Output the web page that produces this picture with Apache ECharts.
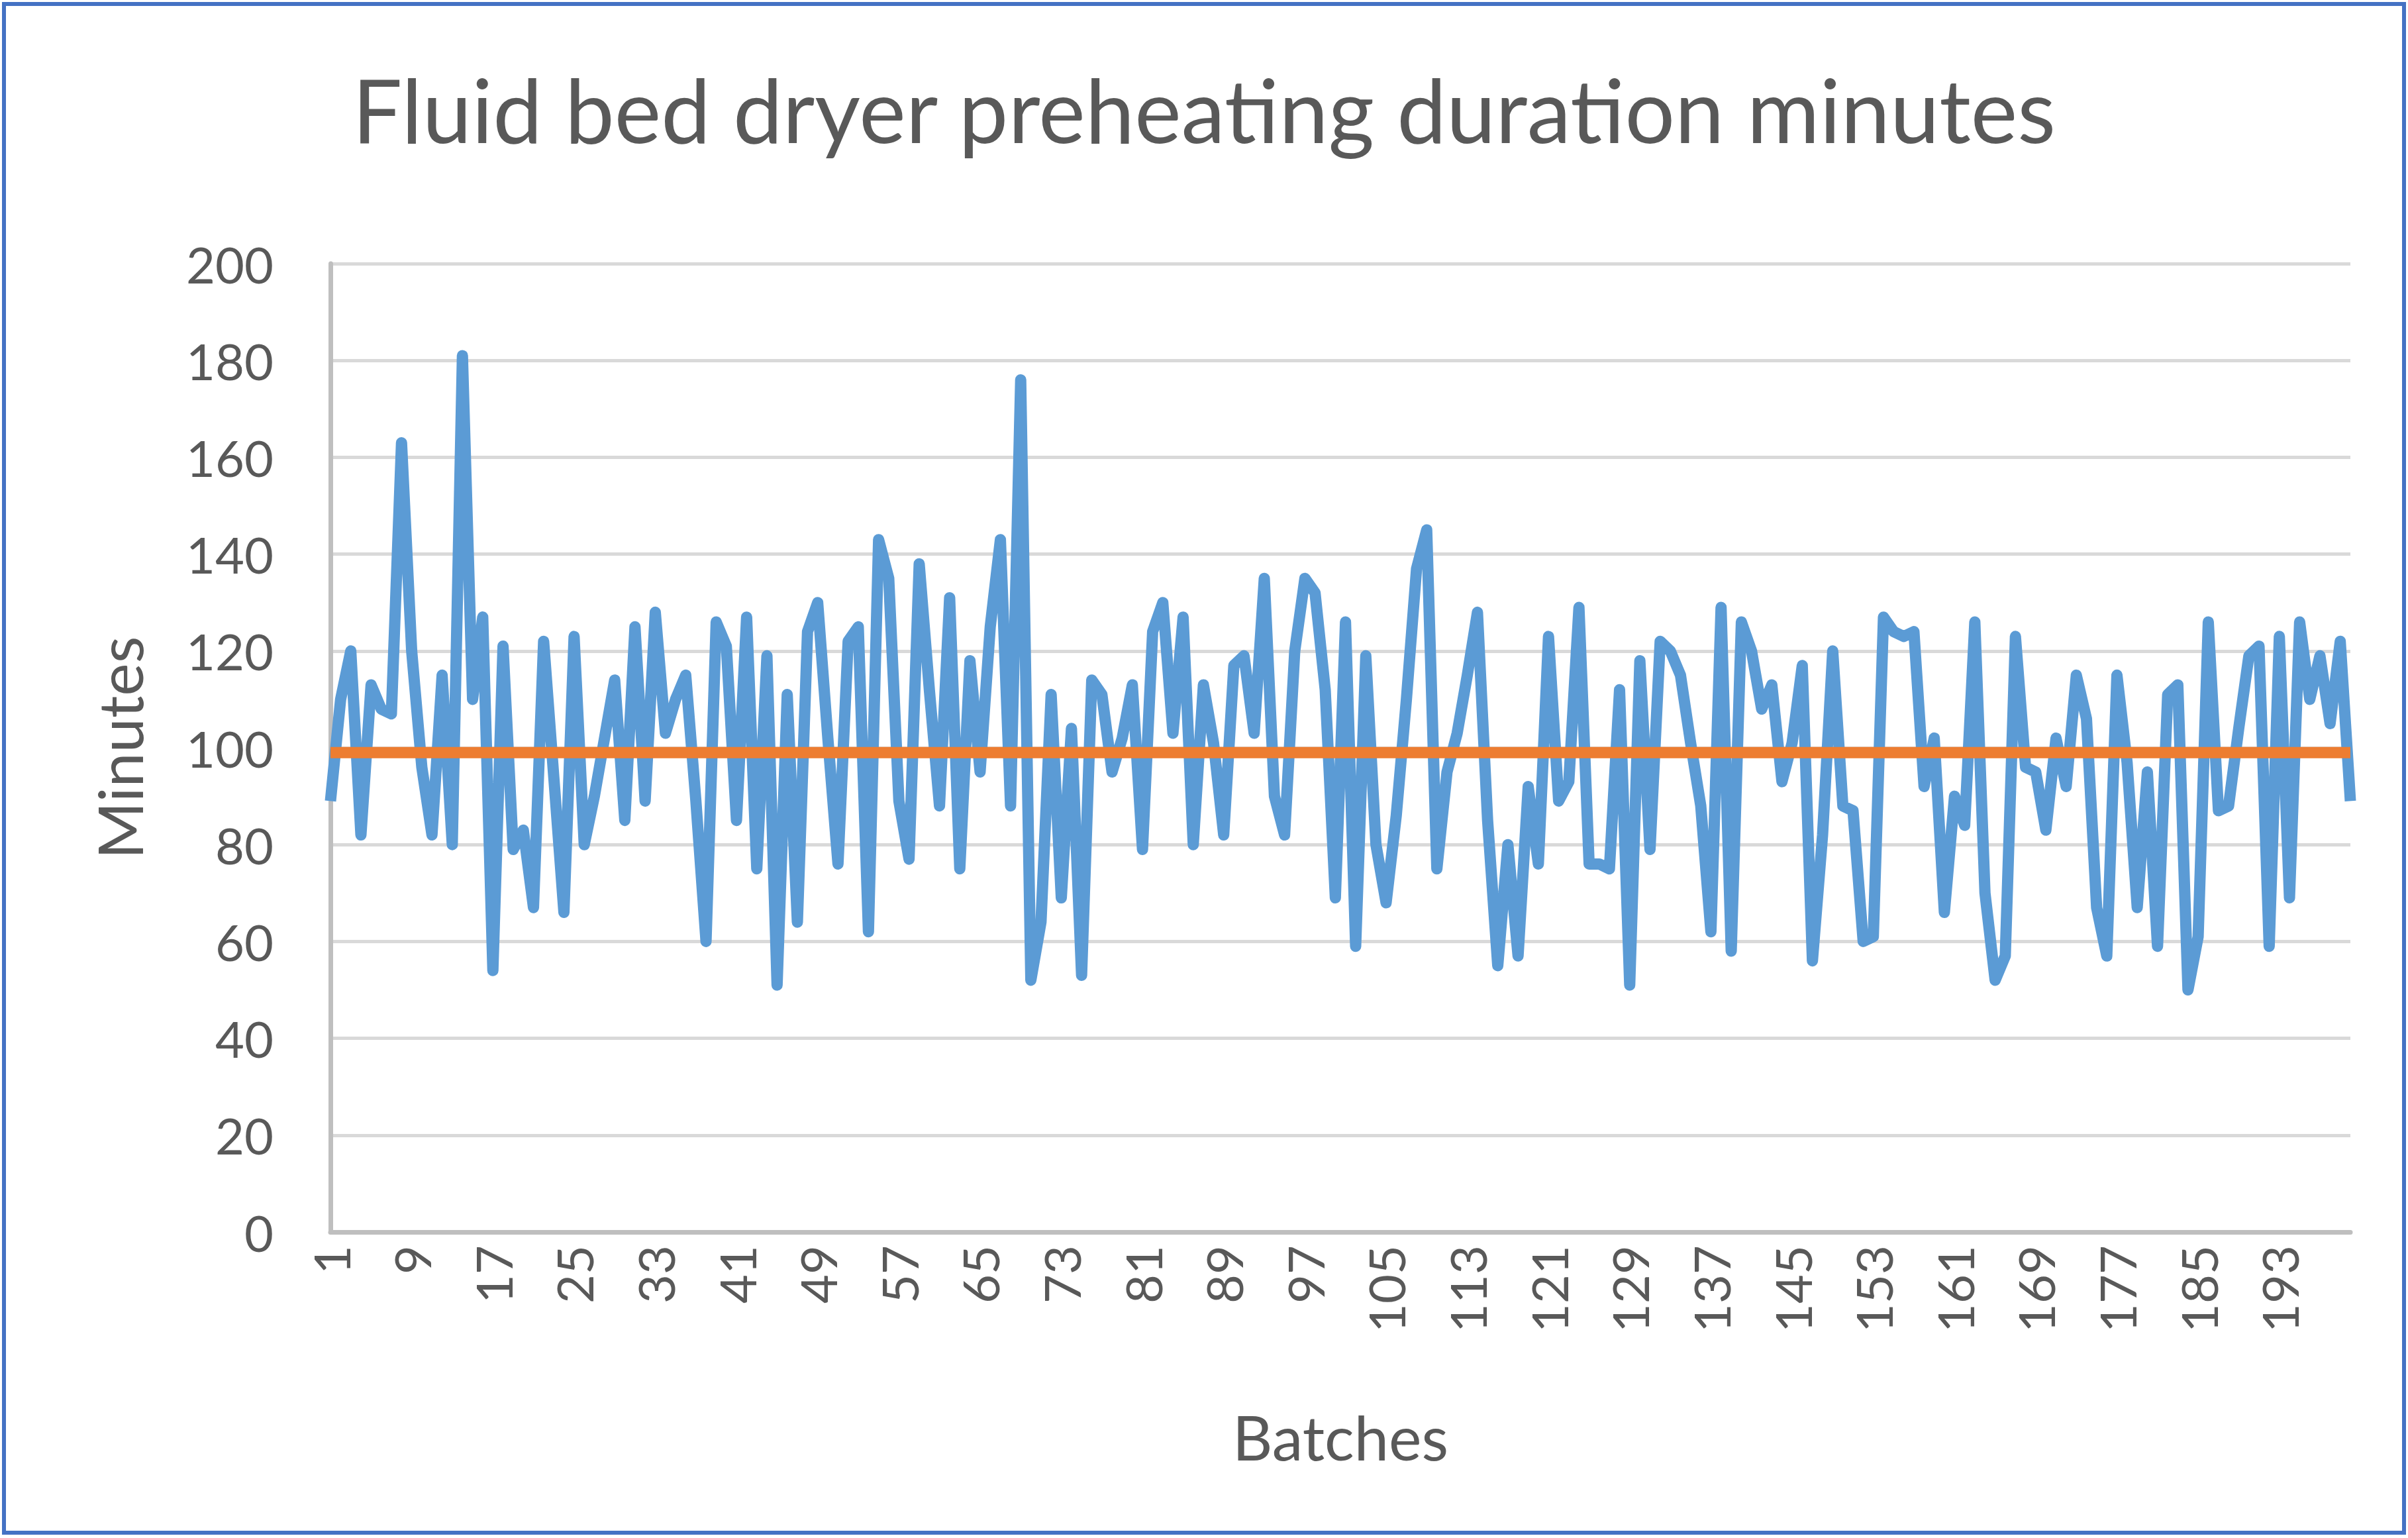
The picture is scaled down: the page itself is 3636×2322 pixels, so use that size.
<!DOCTYPE html>
<html>
<head>
<meta charset="utf-8">
<script src="https://cdn.jsdelivr.net/npm/echarts@6/dist/echarts.min.js"></script>
<style>
html,body{margin:0;padding:0;background:#ffffff;}
#chart{width:3636px;height:2322px;}
</style>
</head>
<body>
<div id="chart"></div>
<script>
// ---------- data ----------
const chartTitle = 'Fluid bed dryer preheating duration minutes';
const xAxisTitle = 'Batches';
const yAxisTitle = 'Minutes';

const batchCount = 200;
const batches = Array.from({length: batchCount}, (_, i) => String(i + 1));

const minutes = [
  89,110,120,82,113,108,107,163,120,96,
  82,115,80,181,110,127,54,121,79,83,
  67,122,94,66,123,80,90,102,114,85,
  125,89,128,103,110,115,89,60,126,121,
  85,127,75,119,51,111,64,124,130,102,
  76,122,125,62,143,135,89,77,138,112,
  88,131,75,118,95,125,143,88,176,52,
  64,111,69,104,53,114,111,95,102,113,
  79,124,130,103,127,80,113,101,82,117,
  119,103,135,90,82,120,135,132,112,69,
  126,59,119,80,68,86,110,137,145,75,
  95,103,115,128,85,55,80,57,92,76,
  123,89,93,129,76,76,75,112,51,118,
  79,122,120,115,101,88,62,129,58,126,
  120,108,113,93,101,117,56,82,120,88,
  87,60,61,127,124,123,124,92,102,66,
  90,84,126,70,52,57,123,96,95,83,
  102,92,115,106,67,57,115,97,67,95,
  59,111,113,50,61,126,87,88,104,119,
  121,59,123,69,126,110,119,105,122,89
];

const averageMinutes = 99;
const averageLine = batches.map(() => averageMinutes);

const yMin = 0, yMax = 200, yStep = 20;

// ---------- styling helpers ----------
const FONT = 'Lato';
const TEXT_COLOR = '#595959';
function fitSize(text, target) {
  const ctx = document.createElement('canvas').getContext('2d');
  ctx.font = 'normal 100px ' + FONT;
  return 100 * target / ctx.measureText(text).width;
}
const titleSize = fitSize(chartTitle, 2575);
const axisTitleSize = fitSize(xAxisTitle, 326);
const tickSize = fitSize('200', 132);

const chart = echarts.init(document.getElementById('chart'), null, {renderer: 'svg', width: 3636, height: 2322});

chart.setOption({
  animation: false,
  backgroundColor: '#ffffff',
  title: {
    text: chartTitle,
    left: 'center',
    top: 92,
    textStyle: {fontFamily: FONT, fontSize: titleSize, fontWeight: 'normal', color: TEXT_COLOR}
  },
  graphic: [{
    type: 'rect',
    shape: {x: 6, y: 6, width: 3624, height: 2308},
    style: {fill: 'none', stroke: '#4472C4', lineWidth: 6},
    silent: true
  }],
  grid: {left: 499, right: 87, top: 398, bottom: 462, containLabel: false},
  xAxis: {
    type: 'category',
    data: batches,
    boundaryGap: false,
    name: xAxisTitle,
    nameLocation: 'middle',
    nameGap: 262,
    nameTextStyle: {fontFamily: FONT, fontSize: axisTitleSize, color: TEXT_COLOR},
    axisLine: {show: true, lineStyle: {color: '#BFBFBF', width: 7}},
    axisTick: {show: false},
    axisLabel: {
      interval: 7,
      rotate: 90,
      margin: 20,
      fontFamily: FONT,
      fontSize: tickSize,
      color: TEXT_COLOR
    },
    splitLine: {show: false}
  },
  yAxis: {
    type: 'value',
    min: yMin,
    max: yMax,
    interval: yStep,
    name: yAxisTitle,
    nameLocation: 'middle',
    nameRotate: 90,
    nameGap: 272,
    nameTextStyle: {fontFamily: FONT, fontSize: axisTitleSize, color: TEXT_COLOR},
    axisLine: {show: true, lineStyle: {color: '#BFBFBF', width: 7}},
    axisTick: {show: false},
    axisLabel: {margin: 86, fontFamily: FONT, fontSize: tickSize, color: TEXT_COLOR},
    splitLine: {show: true, lineStyle: {color: '#D9D9D9', width: 5}}
  },
  series: [
    {
      name: 'Preheating duration',
      type: 'line',
      data: minutes,
      symbol: 'none',
      lineStyle: {color: '#5B9BD5', width: 17, join: 'round', cap: 'butt'},
      z: 3
    },
    {
      name: 'Average',
      type: 'line',
      data: averageLine,
      symbol: 'none',
      lineStyle: {color: '#ED7D31', width: 17},
      z: 4
    }
  ]
});
</script>
</body>
</html>
